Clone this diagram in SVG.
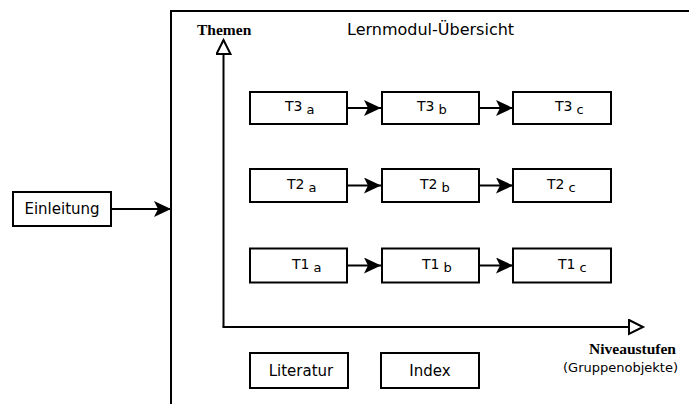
<svg xmlns="http://www.w3.org/2000/svg" width="689" height="404" viewBox="0 0 689 404">
  <style>
    .box { fill: #fff; stroke: #000; stroke-width: 2; }
    .lbl { font-family: "DejaVu Sans", Verdana, sans-serif; font-size: 15px; fill: #000; }
    .title { font-family: "DejaVu Sans", Verdana, sans-serif; font-size: 16px; fill: #000; }
    .note { font-family: "DejaVu Sans", Verdana, sans-serif; font-size: 13px; fill: #000; }
    .tl { font-family: "DejaVu Sans", Verdana, sans-serif; font-size: 14px; fill: #000; }
    .sub { font-size: 13px; }
    .axis-lbl { font-family: "Liberation Serif", "Times New Roman", serif; font-size: 15.5px; font-weight: bold; fill: #000; }
    .conn { stroke: #000; stroke-width: 2; fill: none; }
    .axis { stroke: #000; stroke-width: 2; fill: none; }
  </style>
  <defs>
    <marker id="head" markerUnits="userSpaceOnUse" markerWidth="20" markerHeight="18" refX="17" refY="8" orient="auto">
      <path d="M0,0 L17,8 L0,16 L4,8 Z" fill="#000"/>
    </marker>
    <marker id="hollow" markerUnits="userSpaceOnUse" markerWidth="20" markerHeight="20" refX="15" refY="8" orient="auto">
      <path d="M1,1 L15,8 L1,15 Z" fill="#fff" stroke="#000" stroke-width="2"/>
    </marker>
  </defs>

  <rect width="689" height="404" fill="#fff"/>

  <!-- module frame: only its left and top edges lie on the page -->
  <g id="frame">
    <path d="M171,404 L171,11 L689,11" fill="none" stroke="#000" stroke-width="2"/>
    <text class="title" x="347" y="35">Lernmodul-Übersicht</text>
  </g>

  <!-- axes -->
  <g id="axes">
    <path class="axis" d="M223.5,327 L223.5,40" marker-end="url(#hollow)"/>
    <path class="axis" d="M222.5,327 L643,327" marker-end="url(#hollow)"/>
    <text class="axis-lbl" x="197" y="35">Themen</text>
    <text class="axis-lbl" x="589" y="354">Niveaustufen</text>
    <text class="note" x="563" y="372">(Gruppenobjekte)</text>
  </g>

  <!-- connectors -->
  <g id="connectors">
    <path class="conn" d="M111,209 L171,209" marker-end="url(#head)"/>
    <path class="conn" d="M347,108 L381,108" marker-end="url(#head)"/>
    <path class="conn" d="M479,108 L513,108" marker-end="url(#head)"/>
    <path class="conn" d="M347,185.5 L381,185.5" marker-end="url(#head)"/>
    <path class="conn" d="M479,185.5 L513,185.5" marker-end="url(#head)"/>
    <path class="conn" d="M347,265.5 L381,265.5" marker-end="url(#head)"/>
    <path class="conn" d="M479,265.5 L513,265.5" marker-end="url(#head)"/>
  </g>

  <g id="einleitung">
    <rect class="box" x="13" y="192" width="98" height="34"/>
    <text class="lbl" x="62" y="214" text-anchor="middle">Einleitung</text>
  </g>

  <g id="t3a">
    <rect class="box" x="250" y="92" width="97" height="32"/>
    <text class="tl" x="285" y="111">T3<tspan class="sub" dx="4" dy="3">a</tspan></text>
  </g>
  <g id="t3b">
    <rect class="box" x="382" y="92" width="97" height="32"/>
    <text class="tl" x="417" y="111">T3<tspan class="sub" dx="4" dy="3">b</tspan></text>
  </g>
  <g id="t3c">
    <rect class="box" x="513" y="92" width="98" height="32"/>
    <text class="tl" x="555" y="111">T3<tspan class="sub" dx="4" dy="3">c</tspan></text>
  </g>

  <g id="t2a">
    <rect class="box" x="250" y="169" width="97" height="33"/>
    <text class="tl" x="287" y="188.5">T2<tspan class="sub" dx="4" dy="3">a</tspan></text>
  </g>
  <g id="t2b">
    <rect class="box" x="382" y="169" width="97" height="33"/>
    <text class="tl" x="420" y="188.5">T2<tspan class="sub" dx="4" dy="3">b</tspan></text>
  </g>
  <g id="t2c">
    <rect class="box" x="513" y="169" width="98" height="33"/>
    <text class="tl" x="547" y="188.5">T2<tspan class="sub" dx="4" dy="3">c</tspan></text>
  </g>

  <g id="t1a">
    <rect class="box" x="250" y="248.5" width="97" height="34"/>
    <text class="tl" x="292" y="268.5">T1<tspan class="sub" dx="4" dy="3">a</tspan></text>
  </g>
  <g id="t1b">
    <rect class="box" x="382" y="248.5" width="97" height="34"/>
    <text class="tl" x="422" y="268.5">T1<tspan class="sub" dx="4" dy="3">b</tspan></text>
  </g>
  <g id="t1c">
    <rect class="box" x="513" y="248.5" width="98" height="34"/>
    <text class="tl" x="558" y="268.5">T1<tspan class="sub" dx="4" dy="3">c</tspan></text>
  </g>

  <g id="literatur">
    <rect class="box" x="250" y="353" width="98" height="35"/>
    <text class="lbl" x="301" y="376" text-anchor="middle">Literatur</text>
  </g>
  <g id="index">
    <rect class="box" x="381" y="353" width="98" height="35"/>
    <text class="lbl" x="430" y="376" text-anchor="middle">Index</text>
  </g>
</svg>
